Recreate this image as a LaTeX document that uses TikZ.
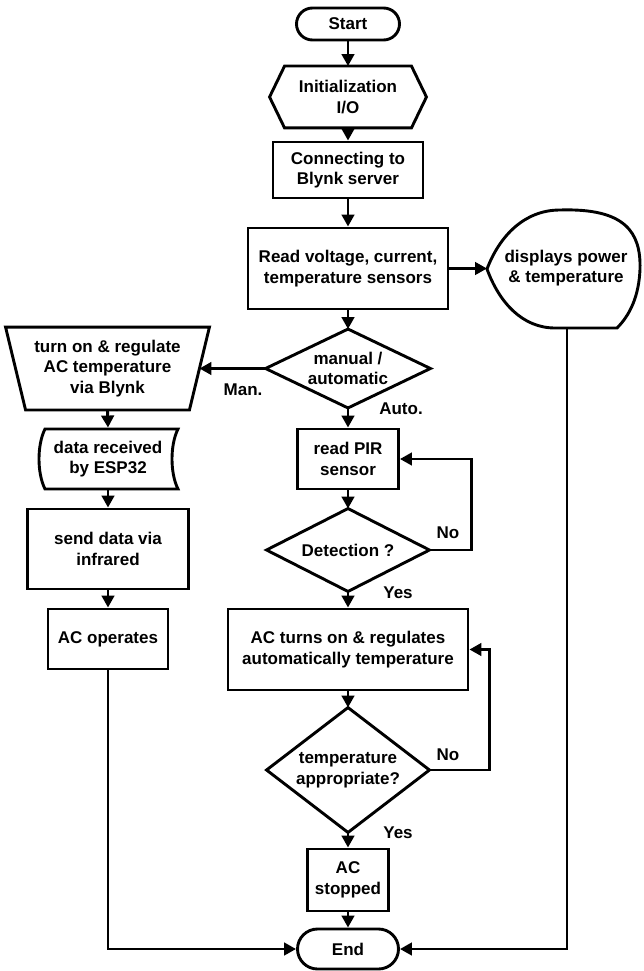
\documentclass[tikz,border=0pt]{standalone}
\usepackage{fontspec}
\setmainfont{Liberation Sans}
\usetikzlibrary{arrows.meta,calc}
\begin{document}
\begin{tikzpicture}[x=1pt,y=-1pt,
  base/.style={font=\bfseries\fontsize{17}{20.5}\selectfont, align=center, inner sep=0pt, line width=2.9pt},
  box/.style={base, draw, rectangle},
  plain/.style={base},
  lbl/.style={font=\bfseries\fontsize{17}{20.5}\selectfont, inner sep=0pt},
  ln/.style={line width=2.9pt},
  arr/.style={line width=2.9pt, -{Triangle[length=12pt,width=12.5pt]}}]
\useasboundingbox (0,0) rectangle (643,971);

% center column
\node[box, minimum width=103pt, minimum height=32pt, rounded corners=16pt] (start) at (348,24) {Start};
\node[plain, minimum width=154pt, minimum height=59pt] (init) at (348,97) {Initialization\\I/O};
\draw[ln] (init.west) -- ($(init.north west)+(15,0)$) -- ($(init.north east)+(-15,0)$) -- (init.east) -- ($(init.south east)+(-15,0)$) -- ($(init.south west)+(15,0)$) -- cycle;
\node[box, minimum width=150pt, minimum height=56pt] (connect) at (348,170) {Connecting to\\Blynk server};
\node[box, minimum width=200pt, minimum height=81pt] (read) at (348,268.5) {Read voltage, current,\\temperature sensors};
\node[plain, minimum width=162pt, minimum height=76pt] (mode) at (348,368.5) {manual /\\automatic};
\draw[ln] (mode.north) -- (mode.east) -- (mode.south) -- (mode.west) -- cycle;
\node[box, minimum width=101pt, minimum height=60pt] (pir) at (348,459) {read PIR\\sensor};
\node[plain, minimum width=160pt, minimum height=80pt] (detect) at (348,550) {Detection ?};
\draw[ln] (detect.north) -- (detect.east) -- (detect.south) -- (detect.west) -- cycle;
\node[box, minimum width=240pt, minimum height=81pt] (acon) at (348,649.5) {AC turns on \& regulates\\automatically temperature};
\node[plain, minimum width=160pt, minimum height=122pt] (tempok) at (348,770) {temperature\\appropriate?};
\draw[ln] (tempok.north) -- (tempok.east) -- (tempok.south) -- (tempok.west) -- cycle;
\node[box, minimum width=81pt, minimum height=62pt] (acstop) at (348,880) {AC\\stopped};
\node[box, minimum width=101pt, minimum height=40pt, rounded corners=20pt] (end) at (348,949) {End};

% display
\node[plain] (disp) at (566,268) {displays power\\\& temperature};
\coordinate (dispL) at (487,269);
\coordinate (dispB) at (567,328);
\draw[ln] (487,269) .. controls (500,235) and (525,210) .. (560,210)
  .. controls (625,208) and (641,232) .. (640,269)
  .. controls (639,296) and (630,315) .. (617,328)
  -- (555,328) .. controls (522,328) and (499,302) .. (487,269) -- cycle;

% left column
\node[plain, minimum width=201pt, minimum height=80pt] (turnon) at (107.5,368.5) {turn on \& regulate\\AC temperature\\via Blynk};
\draw[ln] (turnon.north west) -- (turnon.north east) -- ($(turnon.south east)+(-20,0)$) -- ($(turnon.south west)+(20,0)$) -- cycle;
\coordinate (turnonR) at ($(turnon.east)+(-10,0)$);
\node[plain, minimum width=140pt, minimum height=60pt] (datarx) at (108,459) {data received\\by ESP32};
\draw[ln] (45,429) -- (178,429) .. controls (170,445) and (170,473) .. (178,489)
  -- (45,489) .. controls (37,473) and (37,445) .. (45,429) -- cycle;
\node[box, minimum width=161pt, minimum height=80pt] (send) at (108,549) {send data via\\infrared};
\node[box, minimum width=120pt, minimum height=60pt] (acop) at (108,639) {AC operates};

% labels
\node[lbl] (man) at (243,390) {Man.};
\node[lbl] (auto) at (401,409) {Auto.};
\node[lbl] (no1) at (448,533) {No};
\node[lbl] (yes1) at (398,593) {Yes};
\node[lbl] (no2) at (448,755) {No};
\node[lbl] (yes2) at (398,833) {Yes};

% connectors
\draw[arr] (start) -- (init);
\draw[arr] (init) -- (connect);
\draw[arr] (connect) -- (read);
\draw[arr] (read.east) -- (read.east -| dispL);
\draw[arr] (read) -- (mode);
\draw[arr] (mode.west) -- (mode.west -| turnonR);
\draw[arr] (mode) -- (pir);
\draw[arr] (pir) -- (detect);
\draw[arr] (detect.east) -- ++(42,0) |- (pir.east);
\draw[arr] (detect) -- (acon);
\draw[arr] (acon) -- (tempok);
\draw[arr] (tempok.east) -- ++(60,0) |- (acon.east);
\draw[arr] (tempok) -- (acstop);
\draw[arr] (acstop) -- (end);
\draw[arr] (turnon.south) -- (datarx.north);
\draw[arr] (datarx) -- (send);
\draw[arr] (send) -- (acop);
\draw[arr] (acop.south) |- (end.west);
\draw[arr] (dispB) |- (end.east);
\end{tikzpicture}
\end{document}
